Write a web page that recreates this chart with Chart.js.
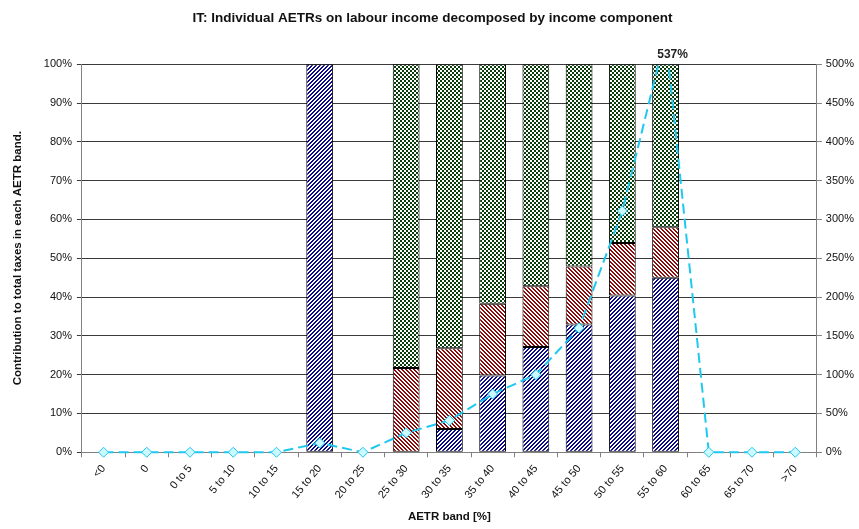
<!DOCTYPE html>
<html>
<head>
<meta charset="utf-8">
<script src="https://cdn.jsdelivr.net/npm/chart.js@4"></script>
<style>
  body { margin: 0; background: #fff; }
  #wrap { width: 859px; height: 529px; }
</style>
</head>
<body>
<div id="wrap"><canvas id="myChart" width="859" height="529"></canvas></div>
<script>
// AETR bands on the x axis
const bands = ['<0', '0', '0 to 5', '5 to 10', '10 to 15', '15 to 20', '20 to 25', '25 to 30',
  '30 to 35', '35 to 40', '40 to 45', '45 to 50', '50 to 55', '55 to 60', '60 to 65', '65 to 70', '>70'];

// share of total taxes per component (%)
const componentA = [0, 0, 0, 0, 0, 100, 0, 0, 6, 19.8, 27.1, 32.9, 40.4, 45, 0, 0, 0];
const componentB = [0, 0, 0, 0, 0, 0, 0, 21.7, 20.8, 18.5, 15.7, 15, 13.5, 13, 0, 0, 0];
const componentC = [0, 0, 0, 0, 0, 0, 0, 78.3, 73.2, 61.7, 57.2, 52.1, 46.1, 42, 0, 0, 0];

// dashed line on the right axis (%)
const aetrLine = [0, 0, 0, 0, 0, 12, 0, 25, 41, 75, 100, 160, 311, 537, 0, 0, 0];
const peakLabel = '537%';

// tick labels
const leftTicks = [0, 10, 20, 30, 40, 50, 60, 70, 80, 90, 100];
const rightTicks = [0, 50, 100, 150, 200, 250, 300, 350, 400, 450, 500];

const FONT = 'Arial, "Liberation Sans", sans-serif';

// pixel hatch tiles, close to the excel fills
function tile(size, bg, fg, isFg) {
  const c = document.createElement('canvas');
  c.width = size; c.height = size;
  const g = c.getContext('2d');
  g.fillStyle = bg;
  g.fillRect(0, 0, size, size);
  g.fillStyle = fg;
  for (let y = 0; y < size; y++) {
    for (let x = 0; x < size; x++) {
      if (isFg(x, y)) g.fillRect(x, y, 1, 1);
    }
  }
  return g.createPattern(c, 'repeat');
}

const blueFill = tile(4, '#fff', '#0c0c8a', (x, y) => (x + y) % 4 < 2);
const redFill = tile(4, '#fff', '#8a0c0c', (x, y) => (x - y + 8) % 4 < 2);
const greenFill = tile(4, '#fff', '#0a3c0a', (x, y) => (x - y + 8 + (y % 2)) % 4 < 2 || (x === 0 && y === 0));

const bw = ctx => (ctx.raw ? 1 : 0);

const peakPlugin = {
  id: 'peakLabel',
  afterDraw(chart) {
    const x = chart.scales.x.getPixelForValue(aetrLine.indexOf(537));
    const g = chart.ctx;
    g.save();
    g.font = 'bold 12px ' + FONT;
    g.fillStyle = '#222';
    g.textAlign = 'center';
    g.textBaseline = 'bottom';
    g.fillText(peakLabel, x + 7, chart.chartArea.top - 4);
    g.restore();
  }
};

window.onload = function () {
  const ctx = document.getElementById('myChart');
  new Chart(ctx, {
    data: {
      labels: bands,
      datasets: [
        {
          type: 'line',
          label: 'AETR',
          data: aetrLine,
          yAxisID: 'y1',
          borderColor: '#1ec8f0',
          borderWidth: 2,
          borderDash: [10, 5],
          backgroundColor: '#ccf8ff',
          pointStyle: 'rectRot',
          pointRadius: 5,
          pointBorderWidth: 1,
          pointBorderColor: '#1ec8f0',
          pointBackgroundColor: '#ccf8ff',
          tension: 0,
          fill: false,
          clip: { left: 10, top: 0, right: 10, bottom: 10 },
          order: 0
        },
        {
          type: 'bar', label: 'Component A', data: componentA, yAxisID: 'y',
          backgroundColor: blueFill, borderColor: '#000', borderWidth: bw,
          borderSkipped: false, barPercentage: 0.62, categoryPercentage: 1, order: 1
        },
        {
          type: 'bar', label: 'Component B', data: componentB, yAxisID: 'y',
          backgroundColor: redFill, borderColor: '#000', borderWidth: bw,
          borderSkipped: false, barPercentage: 0.62, categoryPercentage: 1, order: 1
        },
        {
          type: 'bar', label: 'Component C', data: componentC, yAxisID: 'y',
          backgroundColor: greenFill, borderColor: '#000', borderWidth: bw,
          borderSkipped: false, barPercentage: 0.62, categoryPercentage: 1, order: 1
        }
      ]
    },
    options: {
      responsive: false,
      animation: false,
      devicePixelRatio: 1,
      layout: { padding: { left: 7, right: 1, top: 0, bottom: 1 } },
      plugins: {
        legend: { display: false },
        tooltip: { enabled: false },
        title: {
          display: true,
          text: 'IT: Individual AETRs on labour income decomposed by income component',
          color: '#111',
          font: { family: FONT, size: 13.5, weight: 'bold' },
          padding: { top: 10, bottom: 38 }
        }
      },
      scales: {
        x: {
          stacked: true,
          offset: true,
          grid: { offset: true, drawOnChartArea: false, tickLength: 5, color: '#808080' },
          border: { color: '#808080' },
          ticks: { color: '#111', font: { family: FONT, size: 11 }, minRotation: 50, maxRotation: 50, padding: 5 },
          title: { display: true, text: 'AETR band [%]', color: '#111', font: { family: FONT, size: 11.5, weight: 'bold' }, padding: { top: 4 } }
        },
        y: {
          stacked: true,
          min: 0,
          max: 100,
          afterBuildTicks: axis => { axis.ticks = leftTicks.map(v => ({ value: v })); },
          grid: { color: '#3a3a3a', tickLength: 5 },
          border: { color: '#808080' },
          ticks: { color: '#111', font: { family: FONT, size: 11 }, callback: v => v + '%', padding: 5 },
          title: { display: true, text: 'Contribution to total taxes in each AETR band.', color: '#111', font: { family: FONT, size: 11.5, weight: 'bold' }, padding: { bottom: 14 } }
        },
        y1: {
          position: 'right',
          min: 0,
          max: 500,
          afterBuildTicks: axis => { axis.ticks = rightTicks.map(v => ({ value: v })); },
          grid: { drawOnChartArea: false, tickLength: 5, color: '#808080' },
          border: { color: '#808080' },
          ticks: { color: '#111', font: { family: FONT, size: 11 }, callback: v => v + '%', padding: 4 }
        }
      }
    },
    plugins: [peakPlugin]
  });
};
</script>
</body>
</html>
